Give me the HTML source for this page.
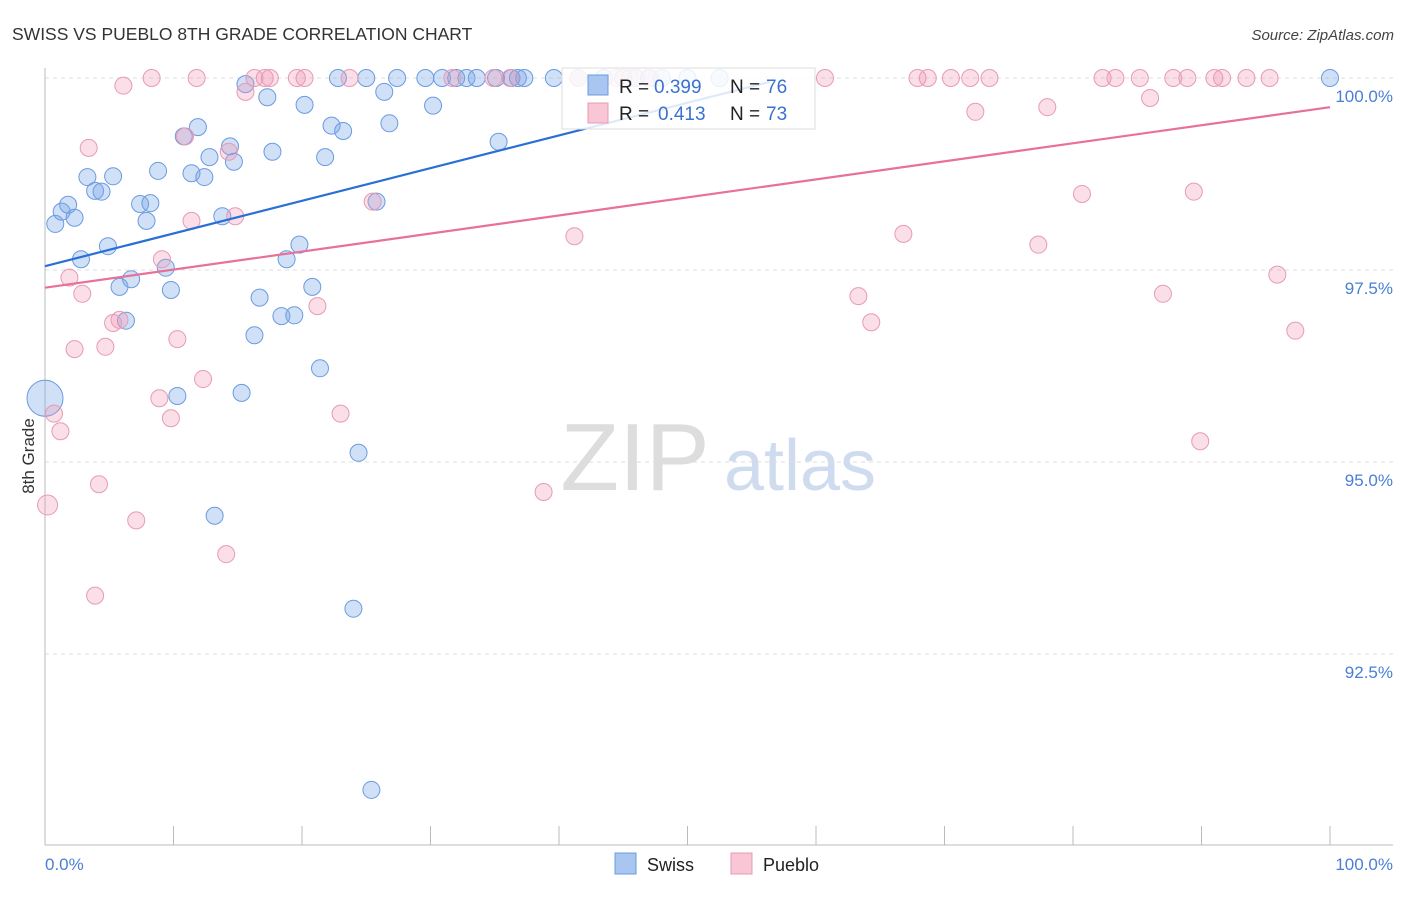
<!DOCTYPE html>
<html><head><meta charset="utf-8"><style>
body{margin:0;background:#fff;font-family:"Liberation Sans",sans-serif}
svg text{font-family:"Liberation Sans",sans-serif}
</style></head><body>
<svg id="chart" width="1406" height="892" xmlns="http://www.w3.org/2000/svg">
<text x="12" y="40" font-size="17.5" fill="#333">SWISS VS PUEBLO 8TH GRADE CORRELATION CHART</text>
<text x="1394" y="40" font-size="15" fill="#444" font-style="italic" text-anchor="end">Source: ZipAtlas.com</text>
<g>
<text x="635" y="490" font-size="96" font-family="Liberation Serif" fill="#ddd" text-anchor="middle">ZIP</text>
<text x="800" y="490" font-size="72" fill="#cfdcf0" text-anchor="middle">atlas</text>
</g>
<g id="grid"></g>
<g id="axes"></g>
<g id="points"></g>
<g id="trends"></g>
<text transform="translate(34,456) rotate(-90)" font-size="17" fill="#333" text-anchor="middle">8th Grade</text>
<text x="45" y="870" font-size="17" fill="#4a7fd4">0.0%</text>
<text x="1393" y="870" font-size="17" fill="#4a7fd4" text-anchor="end">100.0%</text>
<g>
<rect x="562" y="68" width="253" height="61" fill="#fff" fill-opacity="0.85" stroke="#ddd"/>
<rect x="588" y="75" width="20" height="20" fill="#a9c6f0" stroke="#6a9be0"/>
<text x="619" y="93" font-size="19" fill="#222">R =</text><text x="654" y="93" font-size="19" fill="#3a72d0">0.399</text>
<text x="730" y="93" font-size="19" fill="#222">N =</text><text x="766" y="93" font-size="19" fill="#3a72d0">76</text>
<rect x="588" y="103" width="20" height="20" fill="#f8c6d4" stroke="#e89ab5"/>
<text x="619" y="120" font-size="19" fill="#222">R =</text><text x="658" y="120" font-size="19" fill="#3a72d0">0.413</text>
<text x="730" y="120" font-size="19" fill="#222">N =</text><text x="766" y="120" font-size="19" fill="#3a72d0">73</text>
</g>
<g>
<rect x="615" y="853" width="21" height="21" fill="#a9c6f0" stroke="#6a9be0"/>
<text x="647" y="871" font-size="18" fill="#222">Swiss</text>
<rect x="731" y="853" width="21" height="21" fill="#f8c6d4" stroke="#e89ab5"/>
<text x="763" y="871" font-size="18" fill="#222">Pueblo</text>
</g>
</svg>
<script>
const yTicks=[100,97.5,95,92.5];
const yTickLabels=["100.0%","97.5%","95.0%","92.5%"];
const xTicks=[0,10,20,30,40,50,60,70,80,90,100];
const swissX=[0.8,1.3,1.8,2.3,3.3,3.9,4.4,5.3,4.9,2.8,5.8,6.7,6.3,7.4,8.2,7.9,8.8,9.4,9.8,10.3,10.8,11.4,11.9,12.4,12.8,13.8,14.4,14.7,15.3,13.2,16.3,16.7,17.3,15.6,17.7,18.4,19.4,18.8,19.8,20.2,20.8,21.4,21.8,22.3,23.2,22.8,25.0,24.4,24.0,25.4,25.8,26.4,26.8,27.4,29.6,30.2,30.9,32.0,32.8,33.6,35.1,36.3,36.8,37.3,35.3,39.6,100,0,43.5,46,48,50,52.5,45,41.5,47];
const swissY=[98.10,98.26,98.35,98.18,98.71,98.53,98.52,98.72,97.81,97.64,97.28,97.38,96.84,98.36,98.37,98.14,98.79,97.53,97.24,95.86,99.24,98.76,99.36,98.71,98.97,98.20,99.11,98.91,95.90,94.30,96.65,97.14,99.75,99.92,99.04,96.90,96.91,97.64,97.83,99.65,97.28,96.22,98.97,99.38,99.31,100,100,95.12,93.09,90.73,98.39,99.82,99.41,100,100,99.64,100,100,100,100,100,100,100,100,99.17,100,100,95.83,100,100,100,100,100,100,100,100];
const puebloX=[0.2,0.7,1.2,1.9,2.9,2.3,3.4,4.2,4.7,5.3,5.8,6.1,7.1,8.3,8.9,9.1,9.8,10.3,10.9,11.4,11.8,12.3,14.1,14.3,14.8,15.6,16.3,17.1,17.5,19.6,20.2,21.2,23.0,23.7,25.5,31.7,34.9,36.2,38.8,41.2,41.5,44.5,45.5,47.1,60.7,63.3,64.3,66.8,67.9,68.7,70.5,72.0,73.5,72.4,77.3,78.0,80.7,82.3,83.3,85.2,86.0,87.0,87.8,88.9,89.4,89.9,91.0,91.6,93.5,95.3,95.9,97.3,3.9];
const puebloY=[94.44,95.63,95.40,97.40,97.19,96.47,99.09,94.71,96.50,96.81,96.85,99.90,94.24,100,95.83,97.64,95.57,96.60,99.24,98.14,100,96.08,93.80,99.04,98.20,99.82,100,100,100,100,100,97.03,95.63,100,98.39,100,100,100,94.61,97.94,100,100,100,100,100,97.16,96.82,97.97,100,100,100,100,100,99.56,97.83,99.62,98.49,100,100,100,99.74,97.19,100,100,98.52,95.27,100,100,100,100,97.44,96.71,93.26];
const swissTrend=[[0,97.55],[56.4,99.95]];
const puebloTrend=[[0,97.27],[100,99.62]];
const NS="http://www.w3.org/2000/svg";
const X=v=>45+v*12.85, Y=v=>78+(100-v)*76.8;
function mk(t,a,p){const e=document.createElementNS(NS,t);for(const k in a)e.setAttribute(k,a[k]);document.getElementById(p).appendChild(e);return e;}
yTicks.forEach((t,i)=>{
 const l=mk('line',{x1:45,x2:1393,y1:Y(t),y2:Y(t),stroke:'#ddd','stroke-dasharray':'4,4'},'grid');
 
 
 const tx=mk('text',{x:1393,y:Y(t)+24,'font-size':17,fill:'#4a7fd4','text-anchor':'end'},'grid');
 tx.textContent=yTickLabels[i];
 
 
});
const ya=mk('line',{x1:45,x2:45,y1:68,y2:845,stroke:'#bbb'},'axes');


const xa=mk('line',{x1:45,x2:1393,y1:845,y2:845,stroke:'#bbb'},'axes');


xTicks.forEach(t=>{
 const l=mk('line',{x1:X(t),x2:X(t),y1:826,y2:845,stroke:'#bbb'},'axes');
 
 
});
swissX.forEach((x,i)=>{
 const c=mk('circle',{cx:X(x),cy:Y(swissY[i]),r:(x===0?18:8.5),fill:'rgba(120,165,230,0.35)',stroke:'#6a9be0','stroke-width':1},'points');
 
 
});
puebloX.forEach((x,i)=>{
 const c=mk('circle',{cx:X(x),cy:Y(puebloY[i]),r:(i===0?10:8.5),fill:'rgba(240,150,180,0.3)',stroke:'#e89ab5','stroke-width':1},'points');
 
 
});
const sl=mk('line',{x1:X(swissTrend[0][0]),y1:Y(swissTrend[0][1]),x2:X(swissTrend[1][0]),y2:Y(swissTrend[1][1]),stroke:'#2a6fd6','stroke-width':2.2},'trends');


const pl=mk('line',{x1:X(puebloTrend[0][0]),y1:Y(puebloTrend[0][1]),x2:X(puebloTrend[1][0]),y2:Y(puebloTrend[1][1]),stroke:'#e8709a','stroke-width':2.2},'trends');


</script>
</body></html>
